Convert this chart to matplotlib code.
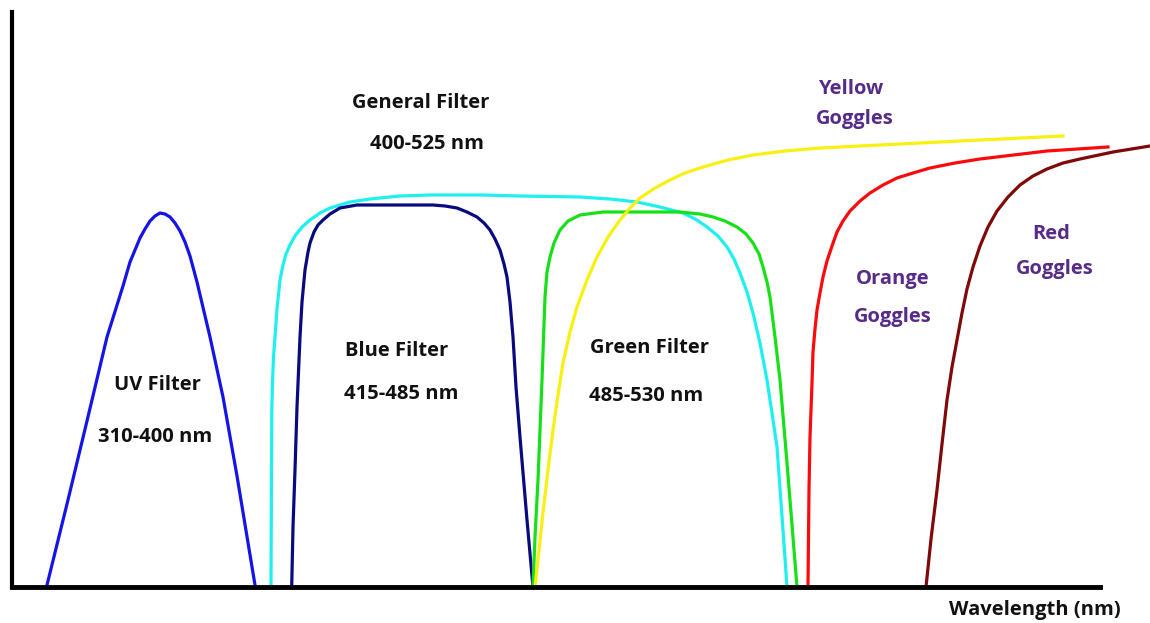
import matplotlib
matplotlib.use("Agg")
from matplotlib import pyplot as plt

# curve points: x position, height above the axis (px)
uv_x = [47, 67, 87, 107, 123, 130, 135, 140, 145, 150, 155, 160, 165, 170, 175, 180,
        185, 190, 197, 210, 223, 237, 255]
uv_y = [2, 83, 166, 250, 301, 325, 337, 349, 358, 366, 371, 374, 373, 370, 364, 356,
        345, 331, 305, 250, 190, 111, 2]

general_x = [271, 271.4, 271.8, 272.5, 273.5, 275, 277, 280, 283, 286, 290, 295, 302,
             310, 320, 330, 340, 350, 370, 400, 430, 483, 520, 580, 610, 637, 660, 683,
             697, 707, 718, 727, 734, 740, 747, 753, 760, 767, 772, 777, 783, 787]
general_y = [0, 100, 175, 205, 230, 250, 278, 307, 322, 333, 342, 351, 360,
             367, 374, 379, 382, 385, 388, 391, 392, 392, 391, 390, 388, 385, 380, 374,
             367, 360, 351, 340, 328, 314, 295, 274, 244, 207, 174, 140, 57, 0]

blue_x = [291.7, 293, 295, 297, 300, 302, 305, 308, 310, 314, 318, 323, 330, 340, 357,
          433, 445, 457, 467, 477, 484, 490, 495, 500, 504, 507, 510, 513, 516, 520, 527, 533]
blue_y = [0, 60, 117, 180, 250, 285, 317, 335, 344, 355, 362, 367, 373, 379, 382,
          382, 381, 379, 375, 370, 364, 357, 348, 337, 323, 310, 285, 250, 200, 150, 67, 0]

green_x = [533, 535, 538, 542, 545, 547, 550, 554, 560, 568, 580, 603, 680, 700, 713, 725,
           737, 746, 753, 759, 763, 767, 770, 775, 780, 787, 797]
green_y = [0, 50, 107, 207, 290, 315, 330, 344, 357, 366, 372, 375, 375, 373, 370, 366,
           360, 353, 344, 333, 320, 305, 290, 250, 207, 124, 0]

yellow_x = [535, 539, 543, 548, 553, 558, 563, 570, 577, 587, 597, 608, 620, 630, 640,
            655, 670, 685, 703, 728, 753, 785, 820, 900, 980, 1063]
yellow_y = [0, 37, 74, 117, 157, 192, 224, 255, 280, 307, 330, 350, 367, 379, 389,
            399, 407, 414, 420, 427, 432, 436, 439, 443, 447, 451]

orange_x = [808, 808.5, 809, 810, 812, 813, 815, 817, 820, 823, 827, 832, 837, 843, 850,
            860, 870, 883, 897, 913, 930, 955, 980, 1047, 1108]
orange_y = [0, 50, 97, 150, 204, 235, 258, 277, 294, 310, 326, 341, 355, 366, 376,
            386, 394, 402, 409, 414, 419, 424, 428, 436, 440]

red_x = [926, 931, 937, 942, 947, 952, 957, 962, 967, 973, 980, 988, 997, 1008, 1020,
         1033, 1047, 1063, 1080, 1113, 1150]
red_y = [0, 48, 97, 143, 187, 220, 247, 274, 298, 320, 341, 360, 376, 390, 402,
         411, 418, 424, 428, 435, 441]

curves = [
    (uv_x, uv_y, "#1414e6"),
    (general_x, general_y, "#1ef0f0"),
    (blue_x, blue_y, "#0a0a80"),
    (green_x, green_y, "#18e018"),
    (yellow_x, yellow_y, "#f8f010"),
    (orange_x, orange_y, "#fa0a0a"),
    (red_x, red_y, "#800808"),
]

filter_labels = ["General Filter", "400-525 nm", "UV Filter", "310-400 nm",
                 "Blue Filter", "415-485 nm", "Green Filter", "485-530 nm"]
filter_pos = [(421, 484), (427, 443), (157, 202), (155, 150),
              (397, 236), (401, 193), (650, 239), (646, 191)]

goggle_labels = ["Yellow", "Goggles", "Orange", "Goggles", "Red", "Goggles"]
goggle_pos = [(851, 498), (855, 468), (893, 308), (893, 270), (1051, 353), (1055, 318)]

W, H = 1150, 623
x0, y0 = 12, 587  # axis origin in pixels
fig = plt.figure(figsize=(W / 100, H / 100), dpi=100)
ax = fig.add_axes([x0 / W, (H - y0) / H, (1100 - x0) / W, (y0 - 12) / H])
ax.set_xlim(x0, 1100)
ax.set_ylim(0, y0 - 12)

for xs, ys, c in curves:
    ax.plot(xs, ys, color=c, lw=2.3, clip_on=False, solid_joinstyle="round")

font = dict(family=["Open Sans", "DejaVu Sans"], fontweight="bold", fontsize=14.5,
            ha="center", va="center")
for t, (x, y) in zip(filter_labels, filter_pos):
    ax.text(x, y, t, color="#111111", **font)
for t, (x, y) in zip(goggle_labels, goggle_pos):
    ax.text(x, y, t, color="#572c88", **font)
ax.text(1035, 587 - 610, "Wavelength (nm)", color="#111111", clip_on=False, **font)

ax.spines['right'].set_color('none')
ax.spines['top'].set_color('none')
ax.spines['left'].set_linewidth(3)
ax.spines['bottom'].set_linewidth(3.5)
ax.set_xticks([])
ax.set_yticks([])
ax.patch.set_alpha(0)

fig.savefig("out.png", dpi=100)
